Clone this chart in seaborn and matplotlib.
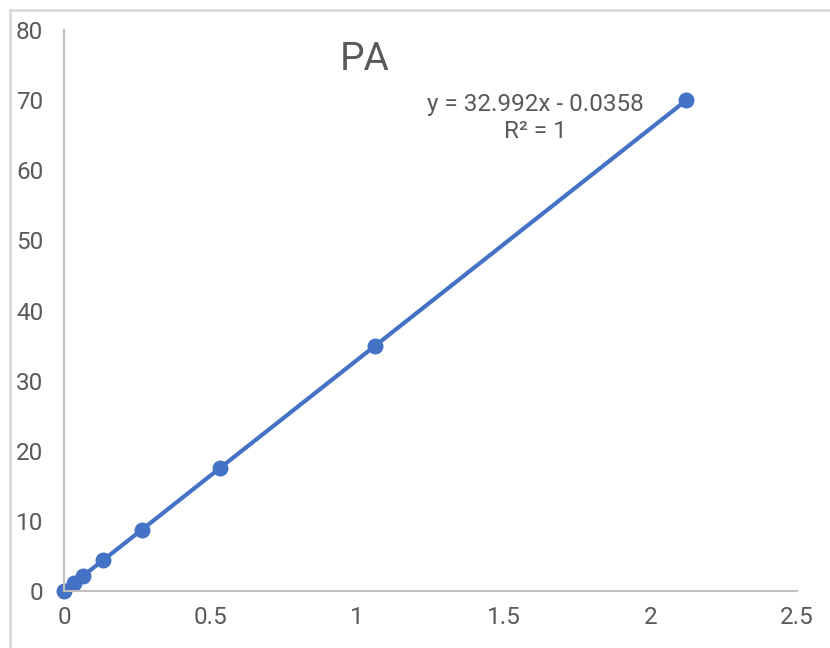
"""PA calibration curve, Excel style"""
import pandas as pd
import seaborn as sns
from matplotlib import pyplot as plt
from matplotlib.patches import Rectangle

# data
conc = [0, 0.033, 0.066, 0.133, 0.266, 0.531, 1.062, 2.123]
area = [0, 1.09, 2.19, 4.38, 8.75, 17.5, 35, 70]
x_ticks = [0, 0.5, 1, 1.5, 2, 2.5]
x_tick_labels = ["0", "0.5", "1", "1.5", "2", "2.5"]
y_ticks = [0, 10, 20, 30, 40, 50, 60, 70, 80]
title = "PA"
equation = "y = 32.992x - 0.0358\nR² = 1"

BLUE = "#4472C4"
TEXT = "#595959"
AXIS = "#BFBFBF"

sns.set_style("white")
plt.rcParams["font.family"] = ["Roboto", "DejaVu Sans"]

df = pd.DataFrame({"x": conc, "y": area})

fig = plt.figure(figsize=(8.3, 6.48), dpi=100)
ax = fig.add_axes([64 / 830, 1 - 591 / 648, (797 - 64) / 830, (591 - 30) / 648])

sns.lineplot(data=df, x="x", y="y", ax=ax, sort=False, color=BLUE,
             linewidth=3, marker="o", markersize=11.5,
             markeredgewidth=0, markerfacecolor=BLUE, clip_on=False)

ax.set_xlim(0, 2.5)
ax.set_ylim(0, 80)
ax.set_xticks(x_ticks)
ax.set_xticklabels(x_tick_labels)
ax.set_yticks(y_ticks)
ax.set_xlabel("")
ax.set_ylabel("")

for side in ["top", "right"]:
    ax.spines[side].set_visible(False)
for side in ["left", "bottom"]:
    ax.spines[side].set_color(AXIS)
    ax.spines[side].set_linewidth(1.5)

ax.tick_params(axis="both", colors=AXIS, labelcolor=TEXT, labelsize=17.5,
               length=5, width=1.5, direction="out")
ax.tick_params(axis="x", pad=6)
ax.tick_params(axis="y", pad=10)

fig.text(365 / 830, 1 - 60 / 648, title, ha="center", va="center",
         fontsize=28, color=TEXT)
fig.text(535 / 830, 1 - 118 / 648, equation, ha="center", va="center",
         fontsize=17.5, color=TEXT, linespacing=1.25)

# outer chart border
fig.patches.append(Rectangle((10 / 830, -0.1), 1, 1 - 10 / 648 + 0.1,
                             transform=fig.transFigure, fill=False,
                             edgecolor="#D9D9D9", linewidth=2))

fig.savefig("out.png", dpi=100, facecolor="white")
